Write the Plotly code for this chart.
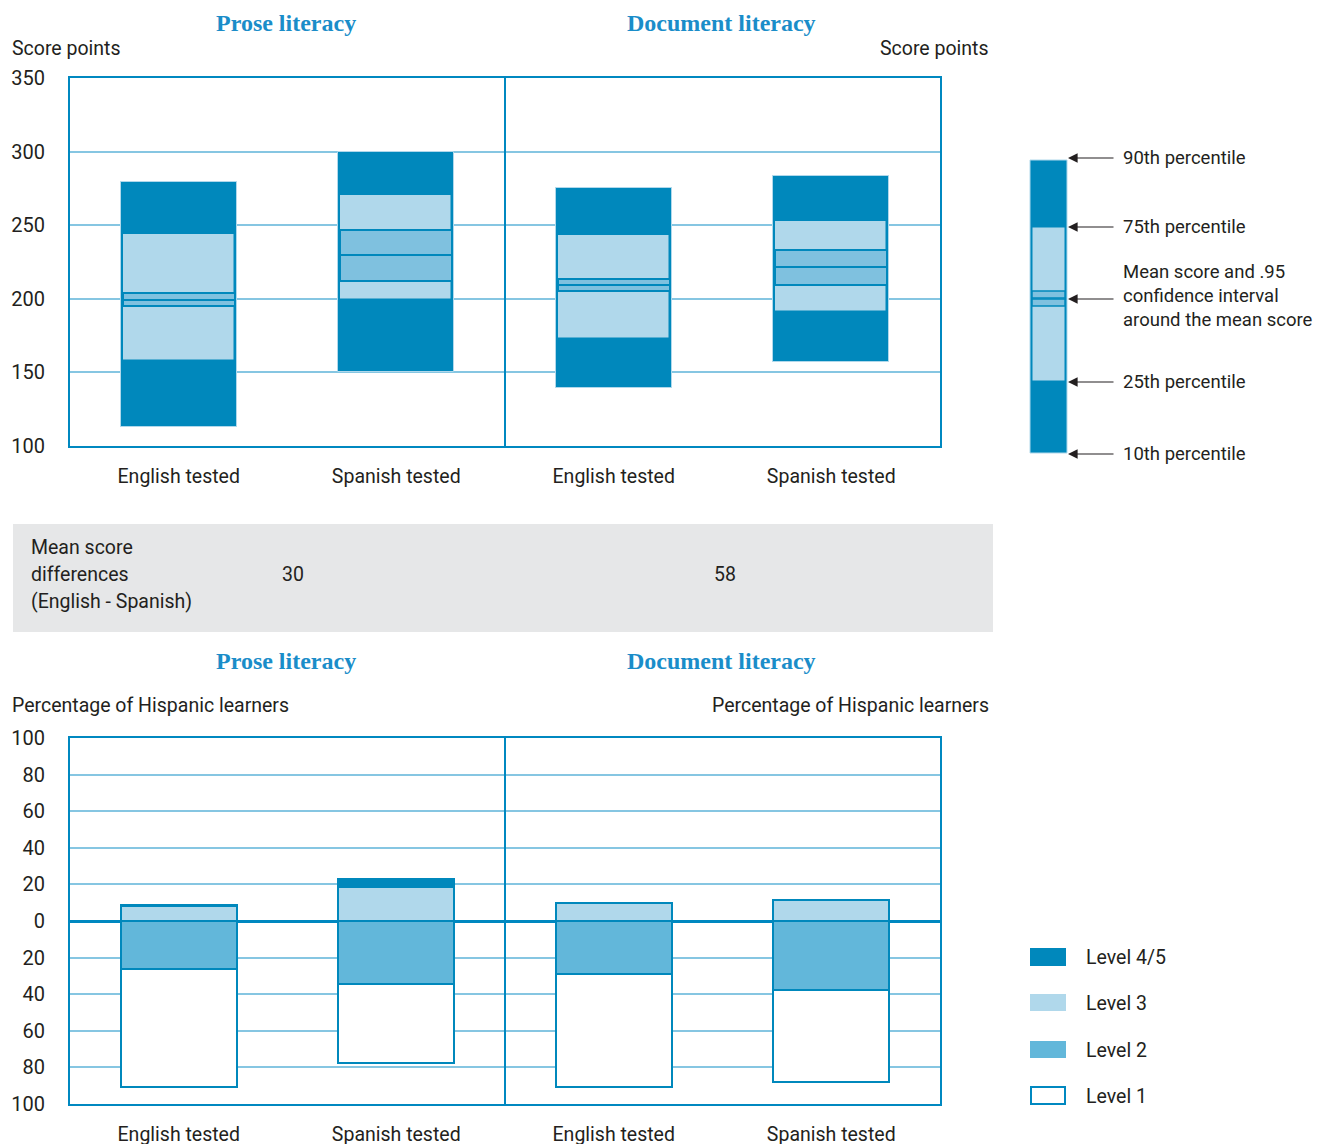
import numpy as np
import plotly.graph_objects as go

# ---------------- data ----------------
categories = ["English tested", "Spanish tested", "English tested", "Spanish tested"]
domains = ["Prose literacy", "Document literacy"]
mean_diff = ["30", "58"]

p10 = [113, 150.5, 139.5, 157]
p25 = [158, 199, 172.5, 191]
ci_low = [195, 212, 205.5, 209.5]
mean = [199.5, 229.5, 209.5, 221.5]
ci_high = [204, 246.5, 213.5, 233]
p75 = [244, 270.5, 243.5, 253]
p90 = [279.5, 299.5, 275.5, 283.5]

level1 = [64.5, 43, 61.3, 50.5]
level2 = [26, 34.4, 29.2, 37.7]
level3 = [8, 18.7, 9.6, 11.6]
level45 = [1, 4, 0, 0]

score_ticks = [100, 150, 200, 250, 300, 350]
pct_ticks = [-100, -80, -60, -40, -20, 0, 20, 40, 60, 80, 100]

# ---------------- style ----------------
W, H = 1323, 1144
OFF = 8  # page body margin
DARK = "#0088BC"
LIGHT = "#B0D8EB"
MID = "#7FC1DF"
L2C = "#62B7DA"
GRID = "#86C6E2"
AXIS = "#0088C0"
TXT = "#231F20"
TITLE = "#1A8DC9"
FONT = "Roboto, sans-serif"
SERIF = "Liberation Serif, DejaVu Serif, serif"
FS = 19.5


def X(px):
    return (px - OFF) / W


def Y(py):
    return 1 - (py - OFF) / H


xpos = np.arange(len(categories)) + 0.5
arr = lambda a: np.array(a, dtype=float)
BW = 0.533

fig = go.Figure()

# ---- top: percentile boxes ----
fig.add_bar(x=xpos, base=arr(p10), y=arr(p90) - arr(p10), width=BW,
            marker=dict(color=DARK, line=dict(color=LIGHT, width=1)),
            xaxis="x", yaxis="y", showlegend=False, hoverinfo="skip")
fig.add_bar(x=xpos, base=arr(p25), y=arr(p75) - arr(p25), width=BW - 0.02,
            marker=dict(color=LIGHT, line=dict(color=DARK, width=1.5)),
            xaxis="x", yaxis="y", showlegend=False, hoverinfo="skip")
fig.add_bar(x=xpos, base=arr(ci_low), y=arr(mean) - arr(ci_low), width=BW - 0.02,
            marker=dict(color=MID, line=dict(color=DARK, width=2)),
            xaxis="x", yaxis="y", showlegend=False, hoverinfo="skip")
fig.add_bar(x=xpos, base=arr(mean), y=arr(ci_high) - arr(mean), width=BW - 0.02,
            marker=dict(color=MID, line=dict(color=DARK, width=2)),
            xaxis="x", yaxis="y", showlegend=False, hoverinfo="skip")

# ---- bottom: proficiency levels ----
l1, l2, l3, l45 = arr(level1), arr(level2), arr(level3), arr(level45)
fig.add_bar(x=xpos, base=-(l2 + l1), y=l1, width=BW,
            marker=dict(color="white", line=dict(color=DARK, width=2)),
            xaxis="x3", yaxis="y3", showlegend=False, hoverinfo="skip")
fig.add_bar(x=xpos, base=-l2, y=l2, width=BW,
            marker=dict(color=L2C, line=dict(color=DARK, width=2)),
            xaxis="x3", yaxis="y3", showlegend=False, hoverinfo="skip")
fig.add_bar(x=xpos, base=np.zeros(len(xpos)), y=l3, width=BW,
            marker=dict(color=LIGHT, line=dict(color=DARK, width=2)),
            xaxis="x3", yaxis="y3", showlegend=False, hoverinfo="skip")
fig.add_bar(x=xpos, base=l3, y=l45, width=BW,
            marker=dict(color=DARK, line=dict(color=DARK, width=2)),
            xaxis="x3", yaxis="y3", showlegend=False, hoverinfo="skip")

tickfont = dict(family=FONT, size=20, color=TXT)
xfont = dict(family=FONT, size=FS, color=TXT)
xdom = [X(70), X(940)]

common_x = dict(range=[0, len(categories)], showgrid=False, zeroline=False,
                tickvals=list(xpos), ticktext=categories, ticks="",
                tickfont=xfont, showline=True, mirror=True, automargin=False,
                linecolor=AXIS, linewidth=2, ticklabelstandoff=12, fixedrange=True)

fig.update_layout(
    width=W, height=H, margin=dict(l=0, r=0, t=0, b=0, autoexpand=False),
    plot_bgcolor="white", paper_bgcolor="white",
    barmode="overlay", bargap=0,
    font=dict(family=FONT, color=TXT),
    xaxis=dict(domain=xdom, anchor="y", **common_x),
    yaxis=dict(domain=[Y(446), Y(78)], range=[100, 350], tickvals=score_ticks,
               showgrid=True, gridcolor=GRID, gridwidth=2, zeroline=False,
               showline=True, mirror=True, linecolor=AXIS, linewidth=2,
               automargin=False,
               tickfont=tickfont, ticks="", ticklabelstandoff=19, anchor="x"),
    yaxis2=dict(overlaying="y", side="right", anchor="x", range=[100, 350],
                tickvals=score_ticks, showgrid=False, zeroline=False,
                automargin=False,
                tickfont=tickfont, ticks="", ticklabelstandoff=18),
    xaxis3=dict(domain=xdom, anchor="y3", **common_x),
    yaxis3=dict(domain=[Y(1104), Y(738)], range=[-100, 100], tickvals=pct_ticks,
                ticktext=[str(abs(v)) for v in pct_ticks],
                showgrid=True, gridcolor=GRID, gridwidth=2,
                zeroline=True, zerolinecolor=AXIS, zerolinewidth=3,
                showline=True, mirror=True, linecolor=AXIS, linewidth=2,
                automargin=False,
                tickfont=tickfont, ticks="", ticklabelstandoff=19, anchor="x3"),
    yaxis4=dict(overlaying="y3", side="right", anchor="x3", range=[-100, 100],
                tickvals=pct_ticks, ticktext=[str(abs(v)) for v in pct_ticks],
                showgrid=False, zeroline=False, automargin=False,
                tickfont=tickfont, ticks="", ticklabelstandoff=18),
)

shapes = []
# dividers between panels
for xr, yr in (("x", "y domain"), ("x3", "y3 domain")):
    shapes.append(dict(type="line", xref=xr, yref=yr, x0=len(categories) / 2,
                       x1=len(categories) / 2, y0=0, y1=1,
                       line=dict(color=AXIS, width=2)))
# grey band for mean differences
shapes.append(dict(type="rect", xref="paper", yref="paper", x0=X(13), x1=X(993),
                   y0=Y(632), y1=Y(524), fillcolor="#E6E7E8", line=dict(width=0),
                   layer="below"))


def prect(x0, x1, y0, y1, fill, lc=None, lw=0):
    return dict(type="rect", xref="paper", yref="paper", x0=X(x0), x1=X(x1),
                y0=Y(y1), y1=Y(y0), fillcolor=fill,
                line=dict(color=lc or fill, width=lw))


# key diagram (top right)
shapes.append(prect(1030, 1067, 160, 453, DARK, LIGHT, 1))
shapes.append(prect(1032, 1065, 227, 381, LIGHT, DARK, 1))
shapes.append(prect(1032, 1065, 291, 298, MID, DARK, 1.5))
shapes.append(prect(1032, 1065, 299, 306, MID, DARK, 1.5))

# level legend swatches
shapes.append(prect(1030, 1066, 948, 966, DARK))
shapes.append(prect(1030, 1066, 994, 1011, LIGHT))
shapes.append(prect(1030, 1066, 1041, 1058, L2C))
shapes.append(prect(1031, 1065, 1087, 1104, "white", AXIS, 2))
fig.update_layout(shapes=shapes)

ann = []


def text(px, py, s, anchor="left", size=FS, color=TXT, family=FONT, bold=False):
    if bold:
        s = "<b>" + s + "</b>"
    ann.append(dict(x=X(px), y=Y(py), xref="paper", yref="paper", text=s,
                    showarrow=False, xanchor=anchor, yanchor="middle",
                    font=dict(size=size, color=color, family=family)))


# panel titles
for cy in (23, 661):
    text(286, cy, domains[0], "center", 24, TITLE, SERIF, True)
    text(721, cy, domains[1], "center", 24, TITLE, SERIF, True)

text(10, 48, "Score points")
text(991, 48, "Score points", "right")
text(10, 705, "Percentage of Hispanic learners")
text(991, 705, "Percentage of Hispanic learners", "right")

# mean difference band
text(29, 547, "Mean score")
text(29, 574, "differences")
text(29, 601, "(English - Spanish)")
text(293, 574, mean_diff[0], "center")
text(725, 574, mean_diff[1], "center")


def arrow(py):
    ann.append(dict(x=X(1068), y=Y(py), xref="paper", yref="paper", text="",
                    showarrow=True, ax=47, ay=0, arrowhead=2, arrowsize=1.6,
                    arrowwidth=1.2, arrowcolor=TXT))


KS = 18.5
# key arrows and labels
for py, lab in ((158, "90th percentile"), (227, "75th percentile"),
                (382, "25th percentile"), (454, "10th percentile")):
    arrow(py)
    text(1121, py, lab, size=KS)
arrow(299)
text(1121, 272, "Mean score and .95", size=KS)
text(1121, 296, "confidence interval", size=KS)
text(1121, 320, "around the mean score", size=KS)

# level legend labels
for py, lab in ((957, "Level 4/5"), (1003, "Level 3"), (1050, "Level 2"),
                (1096, "Level 1")):
    text(1084, py, lab)

fig.update_layout(annotations=ann)
fig.write_html("out.html")
